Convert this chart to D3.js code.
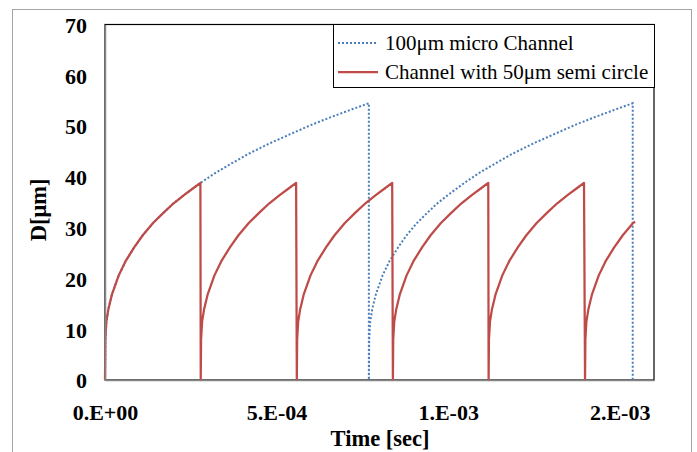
<!DOCTYPE html>
<html>
<head>
<meta charset="utf-8">
<title>D vs Time</title>
<script src="https://d3js.org/d3.v7.min.js"></script>
<style>
  body { margin: 0; background: #fff; }
  svg { display: block; }
</style>
</head>
<body>
<div id="chart"></div>
<script>
// time offsets (µs) from the start of a cycle, and D [µm] read at those offsets
const profileT = [0, 1, 4, 10, 20, 40, 60, 85, 110, 140, 170, 200, 230, 260, 278];
const redProfileD = [0, 8, 11.5, 14, 16.8, 20.6, 23.4, 26.1, 28.5, 30.9, 32.9, 34.8, 36.4, 37.9, 38.8];
const redStarts = [0, 279, 559, 839, 1118, 1399];   // µs
const redEnd = [146, 31.2];                          // last cycle is cut: [offset µs, D]

const blueProfileT = [0, 1, 4, 10, 20, 40, 60, 85, 110, 140, 170, 200, 230, 260, 278,
                      320, 370, 420, 480, 540, 600, 660, 720, 769];
const blueProfileD = [0, 8, 11.5, 14, 16.8, 20.6, 23.4, 26.1, 28.5, 30.9, 32.9, 34.8, 36.4, 37.9, 38.8,
                      40.7, 42.7, 44.6, 46.6, 48.4, 50.2, 51.8, 53.3, 54.5];
const blueStarts = [0, 769];   // µs
const blueEnd = 1538;          // µs, drops to 0 here

const xTickValues = [0, 0.0005, 0.001, 0.0015];
const xTickLabels = ["0.E+00", "5.E-04", "1.E-03", "2.E-03"];
const yTickValues = [0, 10, 20, 30, 40, 50, 60, 70];
const seriesNames = ["100\u03bcm micro Channel", "Channel with 50\u03bcm semi circle"];

const FONT = "'Liberation Serif', 'Times New Roman', serif";
const W = 697, H = 452;
const plot = { left: 105, right: 654, top: 24.5, bottom: 380 };

const svg = d3.select("#chart").append("svg")
    .attr("width", W).attr("height", H)
    .attr("font-family", FONT);

// outer chart border
svg.append("rect")
    .attr("x", 12.5).attr("y", 9.5)
    .attr("width", 679).attr("height", 460)
    .attr("fill", "none").attr("stroke", "#a6a6a6").attr("stroke-width", 1);

const x = d3.scaleLinear().domain([0, 0.0016]).range([plot.left, plot.right]);
const y = d3.scaleLinear().domain([0, 70]).range([plot.bottom, plot.top]);

// build the point tables
const bluePts = [];
blueStarts.forEach(s => {
    blueProfileT.forEach((t, i) => bluePts.push([(s + t) * 1e-6, blueProfileD[i]]));
});
bluePts.push([blueEnd * 1e-6, 0]);

const redPts = [];
redStarts.forEach((s, k) => {
    const last = k === redStarts.length - 1;
    profileT.forEach((t, i) => {
        if (!last || t < redEnd[0]) redPts.push([(s + t) * 1e-6, redProfileD[i]]);
    });
    if (last) redPts.push([(s + redEnd[0]) * 1e-6, redEnd[1]]);
});

// plot area border
svg.append("rect")
    .attr("x", plot.left).attr("y", plot.top)
    .attr("width", plot.right - plot.left).attr("height", plot.bottom - plot.top)
    .attr("fill", "none").attr("stroke", "#000").attr("stroke-width", 1.2);

const line = d3.line().x(d => x(d[0])).y(d => y(d[1]));

svg.append("path")
    .datum(bluePts)
    .attr("d", line)
    .attr("fill", "none")
    .attr("stroke", "#4a7ebb")
    .attr("stroke-width", 2)
    .attr("stroke-dasharray", "2,2");

svg.append("path")
    .datum(redPts)
    .attr("d", line)
    .attr("fill", "none")
    .attr("stroke", "#be4b48")
    .attr("stroke-width", 2.25)
    .attr("stroke-linejoin", "round");

// axes
const yAxis = svg.append("g")
    .attr("transform", `translate(${plot.left},0)`)
    .call(d3.axisLeft(y).tickValues(yTickValues).tickSize(0).tickPadding(18));
yAxis.attr("font-family", FONT).attr("font-size", 22).attr("font-weight", "bold");
yAxis.select(".domain").attr("stroke", "#868686").attr("stroke-width", 1.5);
yAxis.selectAll("text").attr("fill", "#000").attr("dy", "0.36em");

const xAxis = svg.append("g")
    .attr("transform", `translate(0,${plot.bottom})`)
    .call(d3.axisBottom(x).tickValues(xTickValues)
        .tickFormat((d, i) => xTickLabels[i]).tickSize(0).tickPadding(24));
xAxis.attr("font-family", FONT).attr("font-size", 22).attr("font-weight", "bold");
xAxis.select(".domain").attr("stroke", "#868686").attr("stroke-width", 1.5);
xAxis.selectAll("text").attr("fill", "#000");

// axis titles
svg.append("text")
    .attr("x", 380).attr("y", 446)
    .attr("text-anchor", "middle")
    .attr("font-size", 22.5).attr("font-weight", "bold")
    .text("Time [sec]");

svg.append("text")
    .attr("transform", "translate(46,210) rotate(-90)")
    .attr("text-anchor", "middle")
    .attr("font-size", 22.5).attr("font-weight", "bold")
    .text("D[\u03bcm]");

// legend
const lg = svg.append("g");
lg.append("rect")
    .attr("x", 333.5).attr("y", 24.5)
    .attr("width", 321).attr("height", 63)
    .attr("fill", "#fff").attr("stroke", "#000").attr("stroke-width", 1);

const legendItems = [
    { name: seriesNames[0], color: "#4a7ebb", dash: "2,2", w: 2, yy: 43 },
    { name: seriesNames[1], color: "#be4b48", dash: null, w: 2.25, yy: 72 }
];
legendItems.forEach(it => {
    lg.append("line")
        .attr("x1", 338).attr("x2", 378)
        .attr("y1", it.yy).attr("y2", it.yy)
        .attr("stroke", it.color).attr("stroke-width", it.w)
        .attr("stroke-dasharray", it.dash);
    lg.append("text")
        .attr("x", 385).attr("y", it.yy + 6.5)
        .attr("font-size", 21)
        .text(it.name);
});
</script>
</body>
</html>
